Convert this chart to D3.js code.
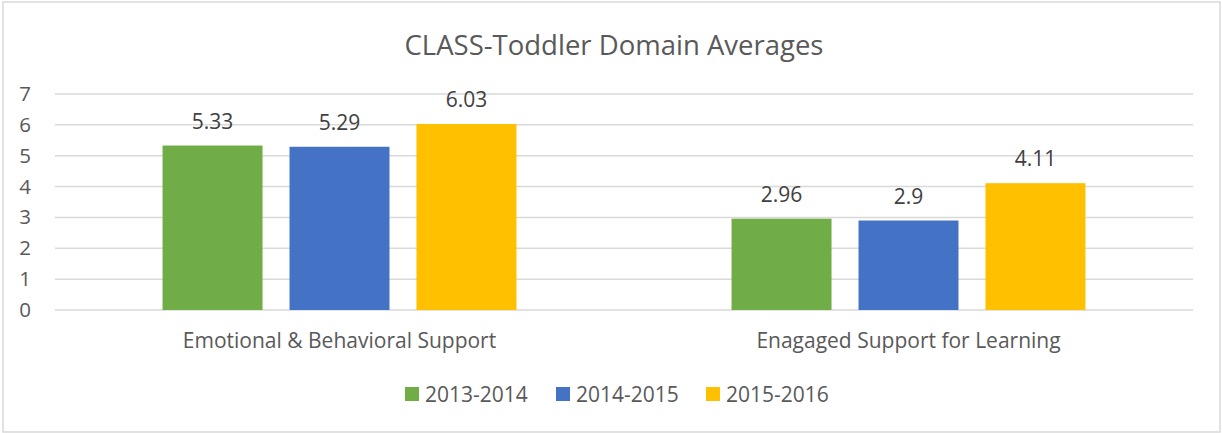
<!DOCTYPE html>
<html>
<head>
<meta charset="utf-8">
<script src="https://cdn.jsdelivr.net/npm/d3@7"></script>
<style>
  body { margin: 0; background: #fff; }
  text { font-family: "Open Sans", "Noto Sans", sans-serif; }
</style>
</head>
<body>
<svg id="chart" width="1222" height="433"></svg>
<script>
const categories = ["Emotional & Behavioral Support", "Enagaged Support for Learning"];
const seriesNames = ["2013-2014", "2014-2015", "2015-2016"];
const seriesColors = ["#70ad47", "#4472c4", "#ffc000"];
const values2013 = [5.33, 2.96];
const values2014 = [5.29, 2.9];
const values2015 = [6.03, 4.11];
const yTicks = [0, 1, 2, 3, 4, 5, 6, 7];

const seriesValues = [values2013, values2014, values2015];
const rows = categories.map((c, i) => ({
    cat: c,
    vals: seriesNames.map((s, j) => ({ series: s, value: seriesValues[j][i], color: seriesColors[j] }))
}));

const width = 1222, height = 433;
const plot = { left: 55, right: 1193, top: 94, bottom: 310 };

const svg = d3.select("#chart");

// chart border
svg.append("rect")
    .attr("x", 3).attr("y", 2)
    .attr("width", width - 5).attr("height", height - 3)
    .attr("fill", "#fff")
    .attr("stroke", "#d9d9d9")
    .attr("stroke-width", 1.5);

svg.append("text")
    .attr("x", 614)
    .attr("y", 55)
    .attr("text-anchor", "middle")
    .attr("font-size", "27.5px")
    .attr("fill", "#595959")
    .text("CLASS-Toddler Domain Averages");

const x0 = d3.scaleBand()
    .domain(categories)
    .range([plot.left, plot.right])
    .paddingInner(0)
    .paddingOuter(0);

// group of 3 bars takes ~62% of the category band
const groupW = x0.bandwidth() * 0.622;
const x1 = d3.scaleBand()
    .domain(seriesNames)
    .range([(x0.bandwidth() - groupW) / 2, (x0.bandwidth() + groupW) / 2])
    .paddingInner(0.2126)
    .paddingOuter(0);

const y = d3.scaleLinear()
    .domain([0, 7])
    .range([plot.bottom, plot.top]);

// gridlines
svg.append("g")
    .selectAll("line")
    .data(yTicks)
    .join("line")
    .attr("x1", plot.left)
    .attr("x2", plot.right)
    .attr("y1", d => y(d))
    .attr("y2", d => y(d))
    .attr("stroke", "#d9d9d9")
    .attr("stroke-width", 1.5);

// y tick labels
const yAxis = svg.append("g")
    .attr("transform", `translate(${plot.left - 30},0)`)
    .call(d3.axisLeft(y).tickValues(yTicks).tickSize(0).tickFormat(d3.format("d")));
yAxis.select(".domain").remove();
yAxis.selectAll("text")
    .attr("x", 0)
    .attr("text-anchor", "middle")
    .attr("font-size", "20.5px")
    .attr("font-family", "Open Sans, sans-serif")
    .attr("fill", "#595959");

const groups = svg.append("g")
    .selectAll("g")
    .data(rows)
    .join("g")
    .attr("transform", d => `translate(${x0(d.cat)},0)`);

groups.selectAll("rect")
    .data(d => d.vals)
    .join("rect")
    .attr("x", d => x1(d.series))
    .attr("y", d => y(d.value))
    .attr("width", x1.bandwidth())
    .attr("height", d => y(0) - y(d.value))
    .attr("fill", d => d.color);

groups.selectAll("text")
    .data(d => d.vals)
    .join("text")
    .attr("x", d => x1(d.series) + x1.bandwidth() / 2)
    .attr("y", d => y(d.value) - 17)
    .attr("text-anchor", "middle")
    .attr("font-size", "21px")
    .attr("fill", "#404040")
    .text(d => d.value);

// category axis labels
const xAxis = svg.append("g")
    .attr("transform", `translate(0,${plot.bottom})`)
    .call(d3.axisBottom(x0).tickSize(0));
xAxis.select(".domain").remove();
xAxis.selectAll("text")
    .attr("dy", 0)
    .attr("y", 38)
    .attr("font-size", "21px")
    .attr("font-family", "Open Sans, sans-serif")
    .attr("fill", "#595959");

// legend
const legendX = [405, 556, 706];
const legend = svg.append("g")
    .selectAll("g")
    .data(seriesNames)
    .join("g")
    .attr("transform", (d, i) => `translate(${legendX[i]},387)`);
legend.append("rect")
    .attr("width", 14).attr("height", 14)
    .attr("fill", (d, i) => seriesColors[i]);
legend.append("text")
    .attr("x", 20)
    .attr("y", 15)
    .attr("font-size", "21px")
    .attr("fill", "#595959")
    .text(d => d);
</script>
</body>
</html>
